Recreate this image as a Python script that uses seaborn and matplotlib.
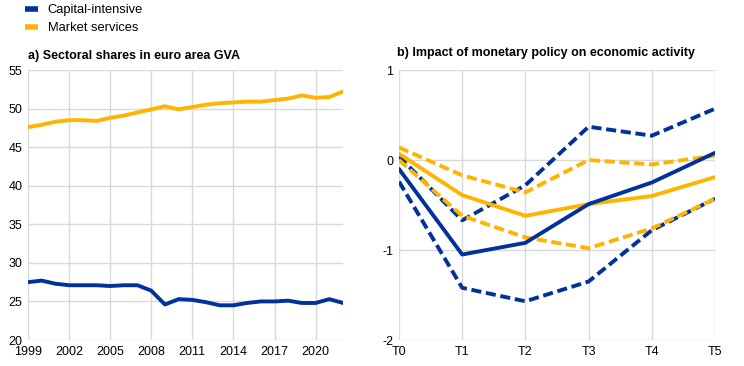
import numpy as np
import pandas as pd
import matplotlib.pyplot as plt
import seaborn as sns

# panel a) sectoral shares in euro area GVA (%)
years = list(range(1999, 2023))
capital_intensive = [27.5, 27.7, 27.3, 27.1, 27.1, 27.1, 27.0, 27.1, 27.1, 26.4, 24.6, 25.3,
                     25.2, 24.9, 24.5, 24.5, 24.8, 25.0, 25.0, 25.1, 24.8, 24.8, 25.3, 24.8]
market_services = [47.6, 47.9, 48.3, 48.5, 48.5, 48.4, 48.8, 49.1, 49.5, 49.9, 50.3, 49.9,
                   50.2, 50.5, 50.7, 50.8, 50.9, 50.9, 51.1, 51.3, 51.7, 51.4, 51.5, 52.2]

# panel b) impact of monetary policy on economic activity
horizons = ["T0", "T1", "T2", "T3", "T4", "T5"]
cap_median = [-0.10, -1.05, -0.92, -0.49, -0.25, 0.08]
cap_upper = [0.04, -0.67, -0.28, 0.37, 0.27, 0.57]
cap_lower = [-0.24, -1.42, -1.57, -1.35, -0.78, -0.43]
mkt_median = [0.07, -0.39, -0.62, -0.49, -0.40, -0.19]
mkt_upper = [0.14, -0.17, -0.36, 0.00, -0.05, 0.05]
mkt_lower = [0.00, -0.62, -0.86, -0.98, -0.76, -0.43]

BLUE = "#003299"
YELLOW = "#FFB400"
GRID = "#d9d9d9"

sns.set_theme(style="white")
plt.rcParams["font.family"] = ["Liberation Sans", "DejaVu Sans"]
plt.rcParams.update({
    "xtick.labelsize": 9,
    "ytick.labelsize": 9,
    "axes.unicode_minus": False,
    "text.color": "black",
    "axes.labelcolor": "black",
    "xtick.color": "black",
    "ytick.color": "black",
})

fig = plt.figure(figsize=(7.44, 3.66), dpi=100)
ax_a = fig.add_axes([0.0376, 0.071, 0.4234, 0.7377])
ax_b = fig.add_axes([0.5363, 0.071, 0.4247, 0.7377])

LW = 2.8
DASH = (2.6, 1.2)

# --- panel a
df_a = pd.DataFrame({
    "year": years * 2,
    "share": capital_intensive + market_services,
    "sector": ["Capital-intensive"] * len(years) + ["Market services"] * len(years),
})
sns.lineplot(data=df_a, x="year", y="share", hue="sector",
             palette={"Capital-intensive": BLUE, "Market services": YELLOW},
             linewidth=LW, ax=ax_a, legend=False)
ax_a.set_xlim(1999, 2022)
ax_a.set_ylim(20, 55)
ax_a.set_xticks(range(1999, 2022, 3))
ax_a.set_yticks(range(20, 56, 5))
ax_a.set_title("a) Sectoral shares in euro area GVA", loc="left", fontsize=9,
               fontweight="bold", pad=8, x=-0.0)

# --- panel b
series = [
    (cap_upper, BLUE, DASH), (cap_lower, BLUE, DASH),
    (mkt_upper, YELLOW, DASH), (mkt_lower, YELLOW, DASH),
    (mkt_median, YELLOW, None), (cap_median, BLUE, None),
]
for vals, col, dash in series:
    sns.lineplot(x=np.arange(len(horizons)), y=vals, color=col,
                 linewidth=LW, ax=ax_b)
    if dash is not None:
        ax_b.lines[-1].set_dashes(dash)
ax_b.set_xlim(0, len(horizons) - 1)
ax_b.set_ylim(-2, 1)
ax_b.set_xticks(range(len(horizons)))
ax_b.set_xticklabels(horizons)
ax_b.set_yticks([-2, -1, 0, 1])
ax_b.set_title("b) Impact of monetary policy on economic activity", loc="left",
               fontsize=9, fontweight="bold", pad=10, x=-0.005)

for ax in (ax_a, ax_b):
    ax.grid(True, color=GRID, linewidth=1)
    ax.set_axisbelow(True)
    for s in ax.spines.values():
        s.set_visible(False)
    ax.set_xlabel("")
    ax.set_ylabel("")
    ax.tick_params(axis="both", length=0, pad=4)

handles = [plt.Line2D([], [], color=BLUE, linewidth=4, solid_capstyle="butt"),
           plt.Line2D([], [], color=YELLOW, linewidth=4, solid_capstyle="butt")]
fig.legend(handles, ["Capital-intensive", "Market services"], loc="upper left",
           bbox_to_anchor=(0.018, 1.02), frameon=False, fontsize=9.3,
           handlelength=1.0, handletextpad=0.75, labelspacing=0.45)

fig.savefig("out.png", dpi=100)
